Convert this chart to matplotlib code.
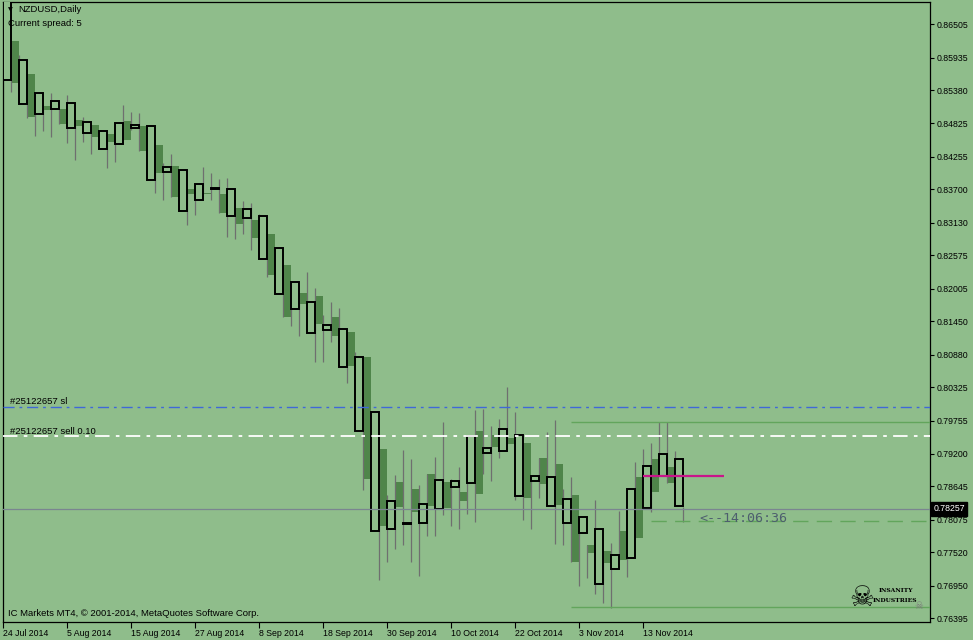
import matplotlib
matplotlib.use('Agg')
import matplotlib.pyplot as plt

plt.rcParams['font.family'] = ['Liberation Sans', 'DejaVu Sans']

W, H = 973, 640
BG = '#8fbd8b'
DOWN_FILL = '#4f854a'
WICK = '#6f6f6f'

# daily NZDUSD bars, 24 Jul 2014 .. 20 Nov 2014 (last one is still open)
opens = [0.85557, 0.86221, 0.85149, 0.85660, 0.84979, 0.85115, 0.85064, 0.85064, 0.84741, 0.84877,
         0.84655, 0.84792, 0.84383, 0.84638, 0.84468, 0.84860, 0.84741, 0.84775, 0.83855, 0.84451,
         0.83992, 0.84094, 0.83328, 0.83702, 0.83515, 0.83634, 0.83700, 0.83617, 0.83237, 0.83379,
         0.83204, 0.83175, 0.82506, 0.82936, 0.81910, 0.82409, 0.81655, 0.81927, 0.81246, 0.81881,
         0.81297, 0.81524, 0.80668, 0.81268, 0.79584, 0.80843, 0.77881, 0.79277, 0.77915, 0.78715,
         0.78001, 0.78596, 0.78018, 0.78852, 0.78256, 0.78715, 0.78630, 0.78545, 0.78698, 0.79584,
         0.79209, 0.79515, 0.79243, 0.79464, 0.78477, 0.79379, 0.78732, 0.79124, 0.78307, 0.79022,
         0.78018, 0.78494, 0.77847, 0.77643, 0.76979, 0.77541, 0.77235, 0.77881, 0.77422, 0.78800,
         0.78273, 0.79107, 0.78818, 0.78971, 0.78307, 0.78257]
highs = [0.87089, 0.86221, 0.85983, 0.85660, 0.85336, 0.85115, 0.85336, 0.85064, 0.85302, 0.84877,
         0.84928, 0.84792, 0.84689, 0.84638, 0.84826, 0.85132, 0.85013, 0.84996, 0.84775, 0.84451,
         0.84145, 0.84298, 0.84026, 0.83702, 0.83787, 0.84077, 0.83980, 0.83872, 0.83889, 0.83379,
         0.83498, 0.83464, 0.83272, 0.82936, 0.82693, 0.82409, 0.82114, 0.81927, 0.82290, 0.82012,
         0.81558, 0.81774, 0.81672, 0.81268, 0.80928, 0.80843, 0.79907, 0.79277, 0.78494, 0.78834,
         0.79260, 0.79107, 0.78664, 0.78852, 0.79141, 0.79737, 0.78767, 0.78971, 0.79498, 0.79941,
         0.79958, 0.79669, 0.79788, 0.80332, 0.79907, 0.79379, 0.78818, 0.79124, 0.79566, 0.79771,
         0.78596, 0.78800, 0.78120, 0.77643, 0.78409, 0.77541, 0.77677, 0.78222, 0.78596, 0.79056,
         0.79277, 0.79379, 0.79737, 0.79737, 0.79243, 0.78290]
lows = [0.85557, 0.85353, 0.85149, 0.84911, 0.84604, 0.84689, 0.84587, 0.84809, 0.84485, 0.84196,
        0.84502, 0.84298, 0.84383, 0.84060, 0.84162, 0.84536, 0.84707, 0.84349, 0.83855, 0.83634,
        0.83515, 0.83566, 0.83328, 0.83090, 0.83260, 0.83609, 0.83515, 0.83299, 0.82890, 0.82856,
        0.82941, 0.82669, 0.82506, 0.82210, 0.81910, 0.81529, 0.81376, 0.81205, 0.81246, 0.80753,
        0.80753, 0.81093, 0.80668, 0.80401, 0.79584, 0.78579, 0.77881, 0.77047, 0.77354, 0.77575,
        0.77643, 0.77354, 0.77116, 0.77796, 0.77796, 0.78154, 0.77966, 0.77915, 0.78171, 0.78035,
        0.78852, 0.78732, 0.79124, 0.79362, 0.78409, 0.78069, 0.77915, 0.78443, 0.78307, 0.77660,
        0.77643, 0.77354, 0.76945, 0.77081, 0.76809, 0.76656, 0.76571, 0.77388, 0.77099, 0.77762,
        0.78273, 0.78205, 0.78818, 0.78698, 0.78307, 0.78035]
closes = [0.86902, 0.85506, 0.85898, 0.84928, 0.85336, 0.85047, 0.85200, 0.84809, 0.85166, 0.84775,
          0.84843, 0.84587, 0.84689, 0.84502, 0.84826, 0.84536, 0.84792, 0.84349, 0.84775, 0.83975,
          0.84077, 0.83566, 0.84026, 0.83617, 0.83787, 0.83609, 0.83712, 0.83299, 0.83697, 0.83112,
          0.83357, 0.82873, 0.83237, 0.82239, 0.82693, 0.81529, 0.82114, 0.81750, 0.81774, 0.81410,
          0.81382, 0.81205, 0.81314, 0.80690, 0.80843, 0.78767, 0.79907, 0.77966, 0.78392, 0.78290,
          0.78018, 0.78205, 0.78341, 0.78307, 0.78749, 0.78273, 0.78732, 0.78392, 0.79498, 0.78511,
          0.79294, 0.79311, 0.79618, 0.79362, 0.79515, 0.78443, 0.78818, 0.78681, 0.78800, 0.78324,
          0.78426, 0.77354, 0.78120, 0.77507, 0.77915, 0.77337, 0.77473, 0.77388, 0.78596, 0.77762,
          0.78988, 0.78545, 0.79192, 0.78698, 0.79107, 0.78257]

date_bars = [0, 8, 16, 24, 32, 40, 48, 56, 64, 72, 80]
date_labels = ['24 Jul 2014', '5 Aug 2014', '15 Aug 2014', '27 Aug 2014', '8 Sep 2014',
               '18 Sep 2014', '30 Sep 2014', '10 Oct 2014', '22 Oct 2014', '3 Nov 2014',
               '13 Nov 2014']
price_ticks = [0.86505, 0.85935, 0.85380, 0.84825, 0.84255, 0.83700, 0.83130, 0.82575,
               0.82005, 0.81450, 0.80880, 0.80325, 0.79755, 0.79200, 0.78645, 0.78075,
               0.77520, 0.76950, 0.76395]

current_price = 0.78257
sl_price = 0.80000
entry_price = 0.79500
upper_level = 0.79737
lower_level = 0.76588
dash_level = 0.78052
pink_level = 0.78817
countdown = '<--14:06:36'

fig = plt.figure(figsize=(W / 100, H / 100), dpi=100, facecolor=BG)
ax = fig.add_axes([3 / W, 1 - 622 / H, 927 / W, 620 / H], facecolor=BG)

n = len(opens)
xs = list(range(n))
up = [i for i in xs if closes[i] > opens[i]]
dn = [i for i in xs if closes[i] < opens[i]]

ax.vlines(xs, lows, highs, color=WICK, lw=0.9, zorder=2)
ax.bar(dn, [opens[i] - closes[i] for i in dn], bottom=[closes[i] for i in dn],
       width=1.0, align='edge', color=DOWN_FILL, lw=0, zorder=1)
ax.bar(up, [closes[i] - opens[i] for i in up], bottom=[opens[i] for i in up],
       width=1.0, align='edge', facecolor=BG, edgecolor='black', lw=1.4, zorder=3)

# order / level lines
ax.axhline(sl_price, color='#3f68d8', lw=1.0, dashes=(8, 3.5, 2, 3.5), zorder=4)
ax.axhline(entry_price, color='white', lw=1.3, dashes=(8, 3.5, 2, 3.5), zorder=4)
ax.axhline(current_price, color='#7a8590', lw=0.9, zorder=4)
ax.hlines(upper_level, 71, 116, color='#62a55c', lw=1.0, zorder=4)
ax.hlines(lower_level, 71, 116, color='#62a55c', lw=1.0, zorder=4)
ax.hlines(dash_level, 81, 116, color='#62a55c', lw=1.0, linestyles=[(0, (11, 6))], zorder=4)
ax.hlines(pink_level, 80, 90.1, color='#c8168a', lw=1.6, zorder=5)

ax.set_xlim(0, 927 / 8)
ax.set_ylim(0.76333, 0.86885)

ax.yaxis.tick_right()
ax.set_yticks(price_ticks)
ax.set_yticklabels(['%.5f' % p for p in price_ticks])
ax.set_xticks(date_bars)
ax.set_xticklabels(date_labels)
for lbl in ax.get_xticklabels():
    lbl.set_ha('left')
ax.tick_params(axis='y', length=3, width=0.8, pad=2, labelsize=6.3, colors='black')
ax.tick_params(axis='x', length=4, width=0.8, pad=1, labelsize=6.3, colors='black')
for s in ax.spines.values():
    s.set_color('black')
    s.set_linewidth(0.9)

# current price tag on the scale
ax.text(1.0035, current_price, '%.5f' % current_price, transform=ax.get_yaxis_transform(),
        color='white', fontsize=6.3, va='center', ha='left',
        bbox=dict(boxstyle='square,pad=0.25', fc='black', ec='black'))

# texts inside the chart
def px(x, y):
    return x / W, 1 - y / H

fig.text(*px(8, 10), '\u25bc', fontsize=4.5, va='center', ha='left', family='DejaVu Sans')
fig.text(*px(18, 10), 'NZDUSD,Daily', fontsize=6.8, va='center', ha='left')
fig.text(*px(8, 23), 'Current spread: 5', fontsize=6.8, va='center', ha='left')
fig.text(*px(8, 614), 'IC Markets MT4, \u00a9 2001-2014, MetaQuotes Software Corp.',
         fontsize=6.8, va='center', ha='left')
fig.text(*px(10, 402), '#25122657 sl', fontsize=6.8, va='center', ha='left')
fig.text(*px(10, 431), '#25122657 sell 0.10', fontsize=6.8, va='center', ha='left')
ax.text(87, 0.78103, countdown, fontsize=9.6, family='DejaVu Sans Mono', color='#4d5e6e',
        va='center', ha='left', zorder=6)

# logo
fig.text(*px(862, 598), '\u2620', fontsize=20, va='center', ha='center', family='DejaVu Sans')
fig.text(*px(879, 591), 'INSANITY', fontsize=4.3, va='center', ha='left', family='DejaVu Serif',
         weight='bold')
fig.text(*px(873, 601), 'INDUSTRIES', fontsize=4.3, va='center', ha='left', family='DejaVu Serif',
         weight='bold')
fig.text(*px(919, 606), '\u2620', fontsize=7, va='center', ha='center', color='#7a7a7a',
         family='DejaVu Sans')

fig.savefig('out.png', dpi=100, facecolor=BG)
